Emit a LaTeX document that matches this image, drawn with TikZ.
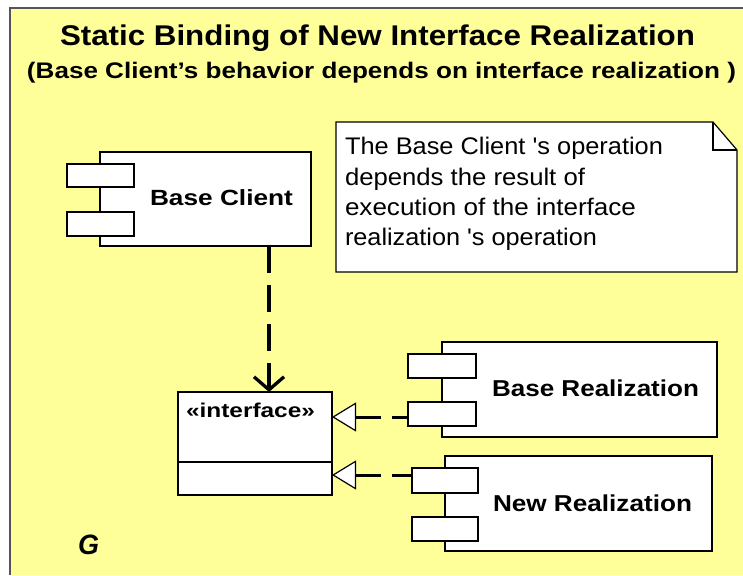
\documentclass[tikz,border=0pt]{standalone}
\usepackage{graphicx}
\usepackage{fontspec}
\setmainfont{Liberation Sans}
\usetikzlibrary{arrows.meta}

% stretch a piece of text horizontally to a given width, keeping its height
\newcommand{\fitto}[2]{\resizebox{#1}{\height}{#2}}

\definecolor{sheet}{HTML}{FFFF99}
\definecolor{rim}{HTML}{555555}

\tikzset{
  box/.style={draw=black, line width=1.2pt, fill=white, inner sep=0pt, outer sep=0pt},
  label/.style={inner sep=0pt, outer sep=0pt, anchor=base west},
  dep/.style={line width=3.3pt, dash pattern=on 27pt off 12pt,
    -{Straight Barb[length=13pt,width=30pt]}},
  realize/.style={line width=3pt,
    -{Triangle[length=24pt,width=29pt,fill=white,line width=1.2pt]}},
}

\begin{document}
\begin{tikzpicture}[x=1pt, y=-1pt]
  \useasboundingbox (0,0) rectangle (743,575);

  % sheet
  \fill[white] (0,0) rectangle (743,575);
  \fill[sheet] (10,8) rectangle (743,575);
  \draw[rim, line width=1.6pt] (10,575) -- (10,8) -- (743,8);

  % headings
  \node[label] (title) at (60,46)
    {\fitto{635pt}{\fontsize{28.5}{28.5}\selectfont\bfseries Static Binding of New Interface Realization}};
  \node[label] (subtitle) at (27,79)
    {\fitto{709pt}{\fontsize{22.5}{22.5}\selectfont\bfseries (Base Client’s behavior depends on interface realization~)}};

  % note with folded corner
  \draw[box] (336,122) -- (713,122) -- (737,150) -- (737,272) -- (336,272) -- cycle;
  \draw[black, line width=1.2pt] (713,122) -- (713,150) -- (737,150);
  \node[label] (noteA) at (345,154)
    {\fitto{318pt}{\fontsize{24}{24}\selectfont The Base Client \textquotesingle s operation}};
  \node[label] (noteB) at (345,185)
    {\fitto{240pt}{\fontsize{24}{24}\selectfont depends the result of}};
  \node[label] (noteC) at (345,215)
    {\fitto{291pt}{\fontsize{24}{24}\selectfont execution of the interface}};
  \node[label] (noteD) at (345,245)
    {\fitto{252pt}{\fontsize{24}{24}\selectfont realization \textquotesingle s operation}};

  % Base Client component
  \node[box, minimum width=211pt, minimum height=94pt] (bc) at (205.5,199) {};
  \node[box, minimum width=67pt, minimum height=23pt] (bcP1) at (100.5,175.5) {};
  \node[box, minimum width=67pt, minimum height=24pt] (bcP2) at (100.5,224) {};
  \node[label] (bcL) at (150,205)
    {\fitto{143pt}{\fontsize{22}{22}\selectfont\bfseries Base Client}};

  % interface class
  \node[box, minimum width=154pt, minimum height=103pt] (iface) at (255,443.5) {};
  \draw[black, line width=1.2pt] (iface.west |- 0,462) -- (iface.east |- 0,462);
  \node[label] (ifaceL) at (186,417)
    {\fitto{129pt}{\fontsize{20}{20}\selectfont\bfseries «interface»}};

  % Base Realization component
  \node[box, minimum width=275pt, minimum height=95pt] (br) at (579.5,389.5) {};
  \node[box, minimum width=68pt, minimum height=24pt] (brP1) at (442,366) {};
  \node[box, minimum width=68pt, minimum height=24pt] (brP2) at (442,414) {};
  \node[label] (brL) at (492,396)
    {\fitto{207pt}{\fontsize{23}{23}\selectfont\bfseries Base Realization}};

  % New Realization component
  \node[box, minimum width=267pt, minimum height=95pt] (nr) at (578.5,503.5) {};
  \node[box, minimum width=66pt, minimum height=25pt] (nrP1) at (445,480.5) {};
  \node[box, minimum width=66pt, minimum height=24pt] (nrP2) at (445,529) {};
  \node[label] (nrL) at (493,511)
    {\fitto{199pt}{\fontsize{23}{23}\selectfont\bfseries New Realization}};

  % diagram tag
  \node[label] (tag) at (78,554)
    {\fitto{21pt}{\fontsize{28}{28}\selectfont\bfseries\itshape G}};

  % connectors
  \draw[dep] ([xshift=63.5pt]bc.south) -- ([xshift=63.5pt]bc.south |- iface.north);
  \draw[realize, dash pattern=on 16pt off 11pt on 60pt]
    ([yshift=-3pt]brP2.west) -- ([yshift=-3pt]iface.east |- brP2.west);
  \draw[realize, dash pattern=on 20pt off 11pt on 60pt]
    ([yshift=5.5pt]nrP1.west) -- ([yshift=5.5pt]iface.east |- nrP1.west);
\end{tikzpicture}
\end{document}
